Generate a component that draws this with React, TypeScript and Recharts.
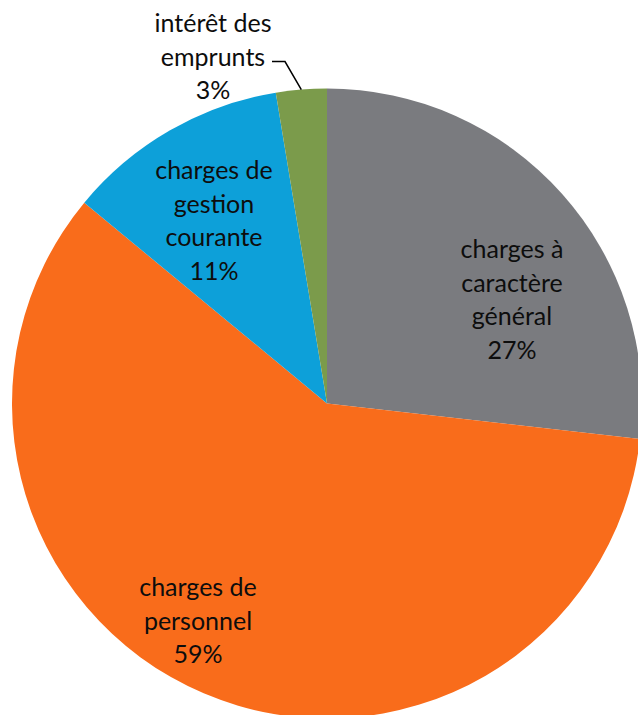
import { PieChart, Pie, Cell } from 'recharts';

const categories = [
  'charges à caractère général',
  'charges de personnel',
  'charges de gestion courante',
  'intérêt des emprunts',
];
const shares = [26.8, 59.2, 11.4, 2.6];
const labelLines = [
  ['charges à', 'caractère', 'général'],
  ['charges de', 'personnel'],
  ['charges de', 'gestion', 'courante'],
  ['intérêt des', 'emprunts'],
];
const colors = ['#7A7B7F', '#F96C1B', '#0DA0D9', '#7B9B4B'];

// label block centre, relative to the pie centre
const labelOffsets = [
  { dx: 185, dy: -105 },
  { dx: -129, dy: 216 },
  { dx: -113, dy: -184 },
  { dx: -114, dy: -348 },
];

const data = categories.map((name, i) => ({ name, value: shares[i] }));
const LINE_H = 33.5;
const RAD = Math.PI / 180;

const SliceLabel = (props: any) => {
  const { cx, cy, index, percent, midAngle, outerRadius } = props;
  const lines = [...labelLines[index], `${Math.round(percent * 100)}%`];
  const off = labelOffsets[index];
  const x = cx + off.dx;
  const top = cy + off.dy - ((lines.length - 1) * LINE_H) / 2;

  let leader = null;
  if (index === 3) {
    // leader line from the label to the thin slice
    const ex = cx + outerRadius * Math.cos(-midAngle * RAD);
    const ey = cy + outerRadius * Math.sin(-midAngle * RAD);
    const ly = top + LINE_H + 6;
    leader = (
      <polyline
        points={`${x + 59},${ly} ${x + 72},${ly} ${ex},${ey}`}
        fill="none"
        stroke="#000"
        strokeWidth={1.5}
      />
    );
  }

  return (
    <g>
      {leader}
      <text
        x={x}
        y={top}
        textAnchor="middle"
        fill="#0D0D0D"
        fontFamily="Lato, sans-serif"
        fontSize={25}
      >
        {lines.map((t, i) => (
          <tspan key={i} x={x} y={top + i * LINE_H} dominantBaseline="central">
            {t}
          </tspan>
        ))}
      </text>
    </g>
  );
};

export default function App() {
  return (
    <div style={{ position: 'absolute', left: 0, top: 0, width: 638, height: 715, background: '#fff' }}>
      <PieChart width={638} height={715} margin={{ top: 0, right: 0, bottom: 0, left: 0 }}>
        <Pie
          data={data}
          dataKey="value"
          nameKey="name"
          cx={327}
          cy={403.5}
          outerRadius={315}
          startAngle={90}
          endAngle={-270}
          stroke="none"
          label={SliceLabel}
          labelLine={false}
          isAnimationActive={false}
        >
          {data.map((entry, i) => (
            <Cell key={`cell-${i}`} fill={colors[i]} />
          ))}
        </Pie>
      </PieChart>
    </div>
  );
}
